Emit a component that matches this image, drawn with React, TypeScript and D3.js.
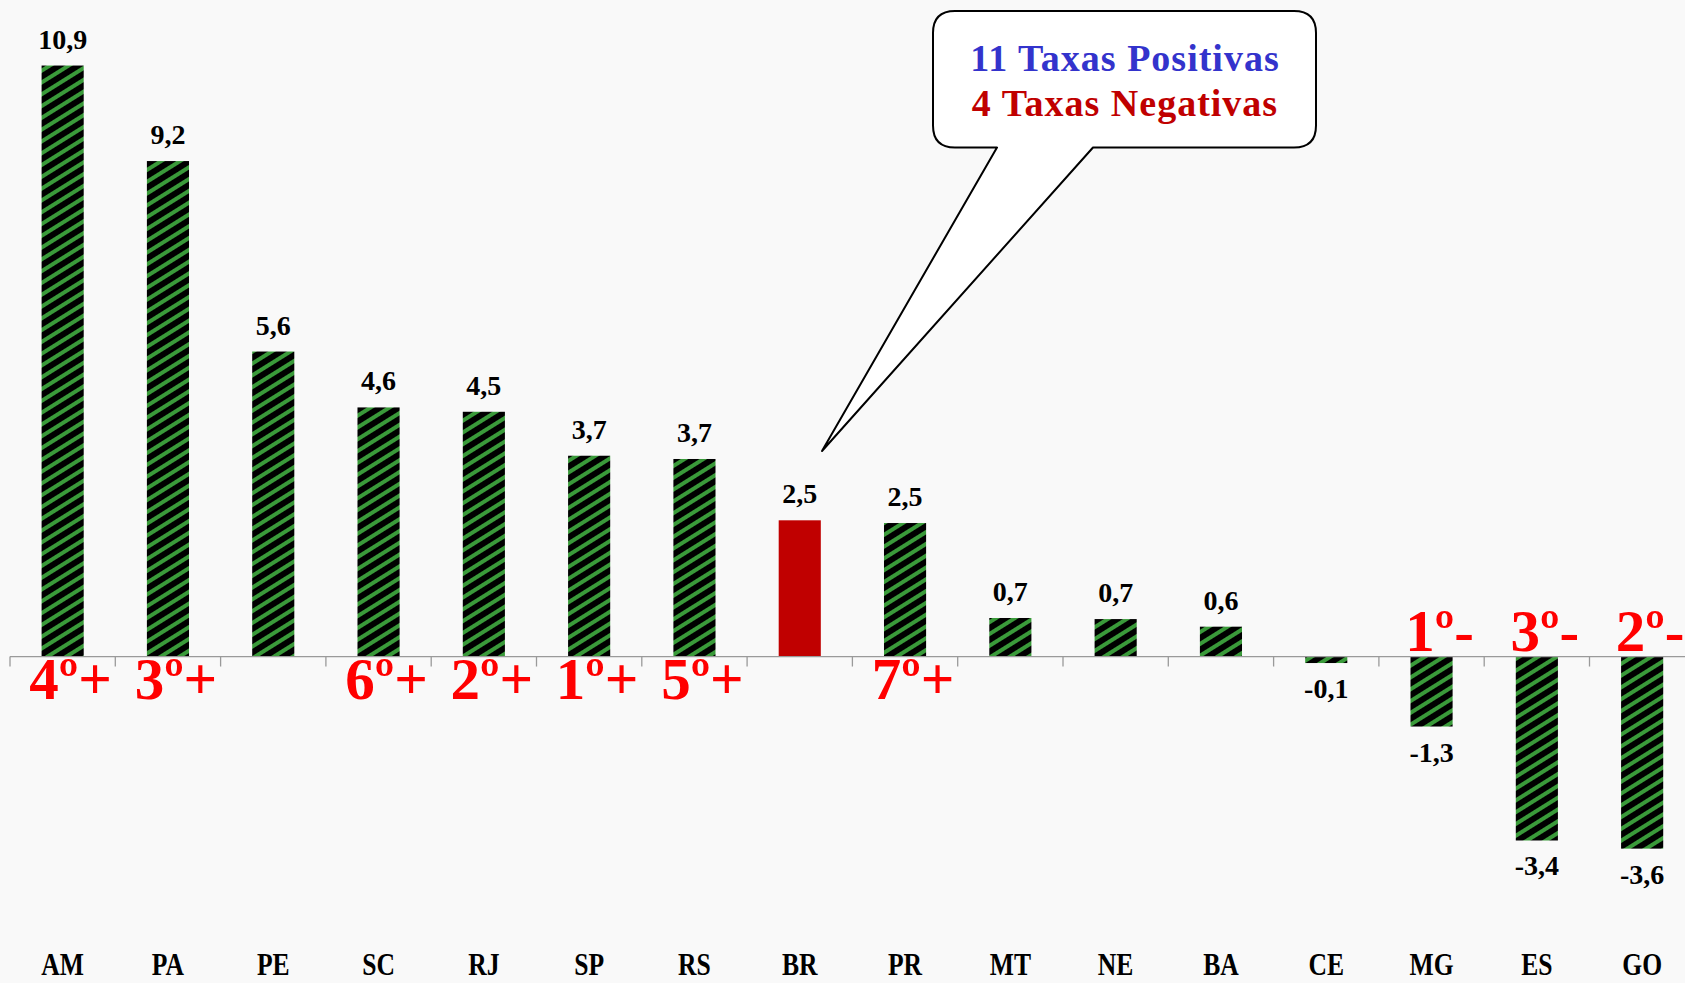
import React from 'react'
import * as d3 from 'd3'

// data section
const categories = ['AM', 'PA', 'PE', 'SC', 'RJ', 'SP', 'RS', 'BR', 'PR', 'MT', 'NE', 'BA', 'CE', 'MG', 'ES', 'GO']
const values = [10.89, 9.13, 5.62, 4.59, 4.51, 3.7, 3.64, 2.51, 2.46, 0.71, 0.69, 0.55, -0.12, -1.29, -3.39, -3.54]
const valueLabels = ['10,9', '9,2', '5,6', '4,6', '4,5', '3,7', '3,7', '2,5', '2,5', '0,7', '0,7', '0,6', '-0,1', '-1,3', '-3,4', '-3,6']
const rankLabels = ['4º+', '3º+', '', '6º+', '2º+', '1º+', '5º+', '', '7º+', '', '', '', '', '1º-', '3º-', '2º-']
const highlight = 'BR'
const calloutLines = ['11 Taxas Positivas', '4 Taxas Negativas']

const W = 1685
const H = 983
const serif = '"Liberation Serif", "DejaVu Serif", serif'

const App = () => {
  const xScale = d3
    .scaleBand<string>()
    .domain(categories)
    .range([10, 10 + 105.3 * categories.length])
    .paddingInner(0.6)
    .paddingOuter(0.3)
  const yScale = d3.scaleLinear().domain([-4, 12]).range([873.6, 5.3])
  const y0 = yScale(0)
  const ticks = categories.map((c, i) => 10 + xScale.step() * i).concat([10 + xScale.step() * categories.length])

  // callout bubble
  const bx0 = 933, bx1 = 1316, by0 = 11, by1 = 147.5, r = 22
  const tail = { a: 997, b: 1093, tx: 822, ty: 451 }
  const bubble = [
    `M${bx0 + r},${by0}`,
    `L${bx1 - r},${by0}`,
    `Q${bx1},${by0} ${bx1},${by0 + r}`,
    `L${bx1},${by1 - r}`,
    `Q${bx1},${by1} ${bx1 - r},${by1}`,
    `L${tail.b},${by1}`,
    `L${tail.tx},${tail.ty}`,
    `L${tail.a},${by1}`,
    `L${bx0 + r},${by1}`,
    `Q${bx0},${by1} ${bx0},${by1 - r}`,
    `L${bx0},${by0 + r}`,
    `Q${bx0},${by0} ${bx0 + r},${by0}`,
    'Z',
  ].join(' ')

  return (
    <svg
      width={W}
      height={H}
      style={{ position: 'absolute', left: 0, top: 0, background: '#f9f9f9' }}
    >
      <defs>
        <pattern
          id='stripes'
          patternUnits='userSpaceOnUse'
          width={12}
          height={10}
          patternTransform='rotate(-32)'
        >
          <rect width={12} height={10} fill='#000' />
          <rect width={12} height={4} fill='#3a9a3a' />
        </pattern>
      </defs>
      <rect width={W} height={H} fill='#f9f9f9' />

      {/* bars */}
      <g>
        {categories.map((c, i) => {
          const v = values[i]
          const yTop = v >= 0 ? yScale(v) : y0
          const h = Math.abs(yScale(v) - y0)
          return (
            <rect
              key={c}
              x={xScale(c)}
              y={yTop}
              width={xScale.bandwidth()}
              height={h}
              fill={c === highlight ? '#c00000' : 'url(#stripes)'}
            />
          )
        })}
      </g>

      {/* axis */}
      <g stroke='#9a9a9a' strokeWidth={1.3}>
        <line x1={10} x2={W} y1={y0} y2={y0} />
        {ticks.map((t) => (
          <line key={t} x1={t} x2={t} y1={y0} y2={y0 + 10} />
        ))}
      </g>

      {/* value labels */}
      <g fontFamily={serif} fontWeight='bold' fontSize={28} fill='#000' textAnchor='middle'>
        {categories.map((c, i) => {
          const v = values[i]
          const cx = (xScale(c) as number) + xScale.bandwidth() / 2
          const y = v >= 0 ? yScale(v) - 17 : yScale(v) + 35
          return (
            <text key={c} x={cx} y={y}>
              {valueLabels[i]}
            </text>
          )
        })}
      </g>

      {/* rank labels */}
      <g fontFamily={serif} fontWeight='bold' fontSize={59} fill='#ff0000' textAnchor='middle'>
        {categories.map((c, i) => {
          if (!rankLabels[i]) return null
          const cx = (xScale(c) as number) + xScale.bandwidth() / 2 + 8
          const y = values[i] >= 0 ? y0 + 42 : y0 - 6
          return (
            <text key={c} x={cx} y={y}>
              {rankLabels[i]}
            </text>
          )
        })}
      </g>

      {/* category labels */}
      <g fontFamily={serif} fontWeight='bold' fontSize={32} fill='#000' textAnchor='middle'>
        {categories.map((c) => {
          const cx = (xScale(c) as number) + xScale.bandwidth() / 2
          return (
            <text key={c} transform={`translate(${cx},975) scale(0.8,1)`}>
              {c}
            </text>
          )
        })}
      </g>

      {/* callout */}
      <path d={bubble} fill='#fff' stroke='#000' strokeWidth={2} strokeLinejoin='round' />
      <g fontFamily={serif} fontWeight='bold' fontSize={38} textAnchor='middle' letterSpacing={1}>
        <text x={1125} y={71} fill='#3333cc'>
          {calloutLines[0]}
        </text>
        <text x={1125} y={116} fill='#c00000'>
          {calloutLines[1]}
        </text>
      </g>
    </svg>
  )
}

export default App
